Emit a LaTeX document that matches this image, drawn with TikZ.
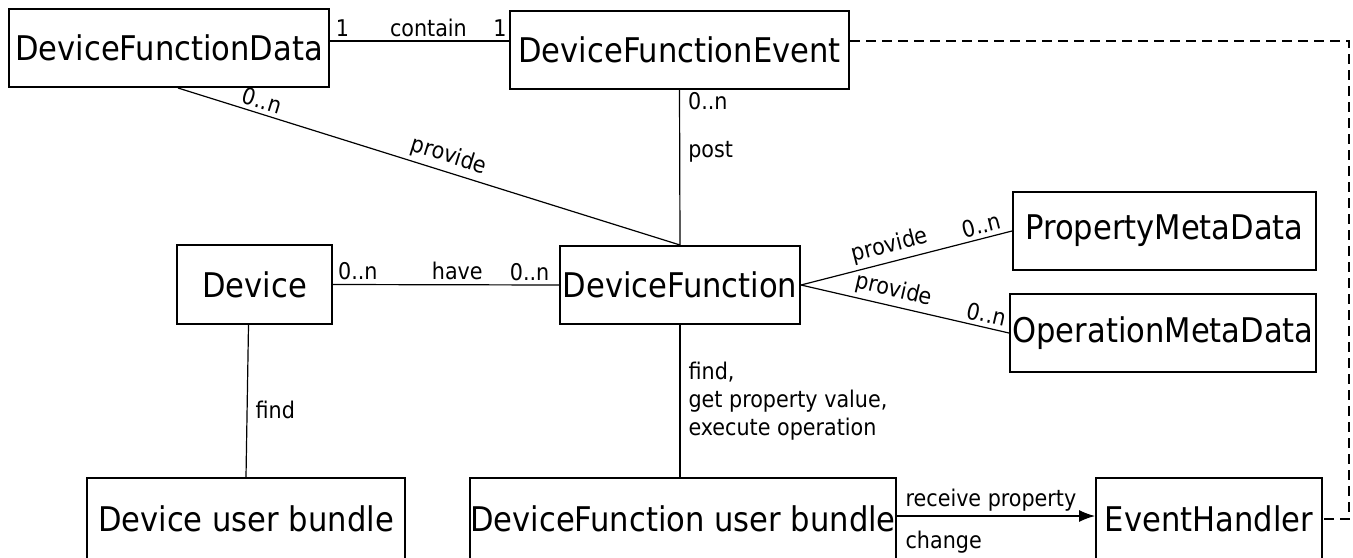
\documentclass[tikz,border=0pt]{standalone}
\usepackage{fontspec}
\setmainfont{DejaVu Sans Condensed}
\usetikzlibrary{arrows.meta}

\begin{document}
\begin{tikzpicture}[x=0.5pt,y=-0.5pt,
  cls/.style={draw,line width=1pt,inner sep=0pt,font=\fontsize{17}{20}\selectfont},
  rel/.style={line width=0.6pt},
  lbl/.style={font=\fontsize{11.5}{14}\selectfont,inner sep=2pt}]
  \useasboundingbox (0,0) rectangle (1353,557);
  \clip (0,0) rectangle (1353,557);
  % classes
  \node[cls,minimum width=160pt,minimum height=39pt] (dfd) at (169,48) {DeviceFunctionData};
  \node[cls,minimum width=169.5pt,minimum height=39pt] (dfe) at (679.5,50) {DeviceFunctionEvent};
  \node[cls,minimum width=77.5pt,minimum height=39.5pt] (dev) at (254.5,284.5) {Device};
  \node[cls,minimum width=120pt,minimum height=39pt] (df) at (680,285) {DeviceFunction};
  \node[cls,minimum width=151.5pt,minimum height=39pt] (pmd) at (1164.5,231) {PropertyMetaData};
  \node[cls,minimum width=153pt,minimum height=39pt] (omd) at (1163,333) {OperationMetaData};
  \node[cls,minimum width=159pt,minimum height=41pt] (dub) at (246,519) {Device user bundle};
  \node[cls,minimum width=213pt,minimum height=41pt] (dfub) at (683,519) {DeviceFunction user bundle};
  \node[cls,minimum width=113pt,minimum height=41pt] (eh) at (1209,519) {EventHandler};
  \coordinate (rim) at (1349,0);
  % associations
  \draw[rel] ([yshift=3.5pt]dfd.east) -- ([yshift=4.5pt]dfe.west)
    node[lbl,pos=0.07,above] {1} node[lbl,pos=0.55,above] {contain} node[lbl,pos=0.95,above] {1};
  \draw[rel] ([xshift=4.5pt]dfd.south) -- (df.north)
    node[lbl,pos=0.16,sloped,above] {0..n} node[lbl,pos=0.53,sloped,above] {provide};
  \draw[rel] (dfe.south) -- (df.north)
    node[lbl,pos=0.07,right,xshift=2pt] {0..n} node[lbl,pos=0.4,right,xshift=2pt] {post};
  \draw[rel] (dev.east) -- (df.west)
    node[lbl,pos=0.11,above] {0..n} node[lbl,pos=0.55,above] {have} node[lbl,pos=0.87,above] {0..n};
  \draw[rel] (df.east) -- (pmd.west)
    node[lbl,pos=0.44,sloped,above] {provide} node[lbl,pos=0.87,sloped,above] {0..n};
  \draw[rel] (df.east) -- (omd.west)
    node[lbl,pos=0.43,sloped,above] {provide} node[lbl,pos=0.88,sloped,above] {0..n};
  \draw[rel] ([xshift=-3pt]dev.south) -- (dub.north)
    node[lbl,pos=0.56,right,xshift=2pt] {find};
  \draw[rel] (df.south) -- (df.south |- dfub.north)
    node[lbl,pos=0.5,right,xshift=2pt,align=left] {find,\\get property value,\\execute operation};
  % event delivery
  \draw[rel,-{Latex[length=8pt,width=6pt]}] ([yshift=1.5pt]dfub.east) -- ([yshift=1.5pt]eh.west)
    node[lbl,pos=0,above right,xshift=2pt] {receive property}
    node[lbl,pos=0,below right,xshift=2pt,yshift=-5pt] {change};
  \draw[rel,dash pattern=on 5pt off 3pt] ([yshift=4.5pt]dfe.east) -- ([yshift=4.5pt]dfe.east -| rim) |- (eh.east);
\end{tikzpicture}
\end{document}
